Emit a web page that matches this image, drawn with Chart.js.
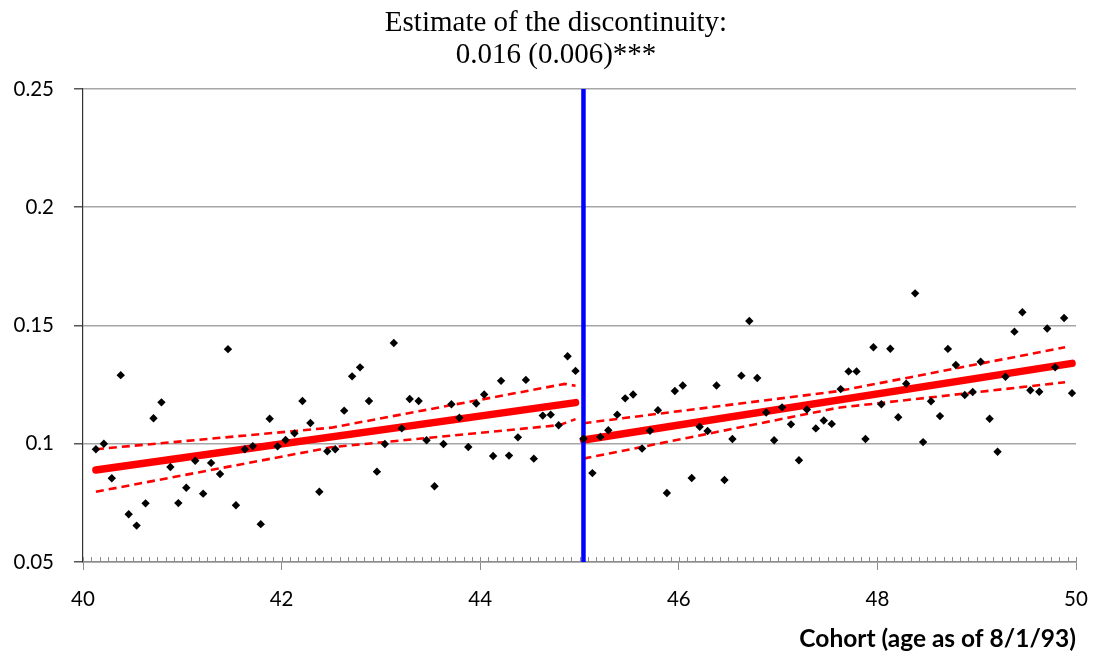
<!DOCTYPE html>
<html>
<head>
<meta charset="utf-8">
<script src="https://cdn.jsdelivr.net/npm/chart.js@4"></script>
<style>
html, body { margin: 0; padding: 0; background: #fff; }
</style>
</head>
<body>
<canvas id="myChart" width="1094" height="656"></canvas>
<script>
// cohort (age as of 8/1/93), one point per month
const cohort = [
    40.13, 40.21, 40.29, 40.38, 40.46, 40.54, 40.63, 40.71, 40.79, 40.88, 40.96, 41.04,
    41.13, 41.21, 41.29, 41.38, 41.46, 41.54, 41.63, 41.71, 41.79, 41.88, 41.96, 42.04,
    42.13, 42.21, 42.29, 42.38, 42.46, 42.54, 42.63, 42.71, 42.79, 42.88, 42.96, 43.04,
    43.13, 43.21, 43.29, 43.38, 43.46, 43.54, 43.63, 43.71, 43.79, 43.88, 43.96, 44.04,
    44.13, 44.21, 44.29, 44.38, 44.46, 44.54, 44.63, 44.71, 44.79, 44.88, 44.96, 45.04,
    45.13, 45.21, 45.29, 45.38, 45.46, 45.54, 45.63, 45.71, 45.79, 45.88, 45.96, 46.04,
    46.13, 46.21, 46.29, 46.38, 46.46, 46.54, 46.63, 46.71, 46.79, 46.88, 46.96, 47.04,
    47.13, 47.21, 47.29, 47.38, 47.46, 47.54, 47.63, 47.71, 47.79, 47.88, 47.96, 48.04,
    48.13, 48.21, 48.29, 48.38, 48.46, 48.54, 48.63, 48.71, 48.79, 48.88, 48.96, 49.04,
    49.13, 49.21, 49.29, 49.38, 49.46, 49.54, 49.63, 49.71, 49.79, 49.88, 49.96
];

const share = [
    0.0977, 0.1000, 0.0854, 0.1290, 0.0702, 0.0654, 0.0748, 0.1108, 0.1175, 0.0902, 0.0749, 0.0814,
    0.0928, 0.0789, 0.0919, 0.0872, 0.1400, 0.0740, 0.0977, 0.0990, 0.0660, 0.1106, 0.0989, 0.1016,
    0.1044, 0.1181, 0.1088, 0.0797, 0.0968, 0.0977, 0.1140, 0.1285, 0.1323, 0.1181, 0.0882, 0.0999,
    0.1426, 0.1065, 0.1189, 0.1181, 0.1015, 0.0820, 0.0999, 0.1167, 0.1110, 0.0986, 0.1170, 0.1208,
    0.0948, 0.1266, 0.0950, 0.1027, 0.1270, 0.0937, 0.1119, 0.1123, 0.1078, 0.1370, 0.1308, 0.1021,
    0.0876, 0.1029, 0.1057, 0.1123, 0.1192, 0.1208, 0.0980, 0.1055, 0.1142, 0.0792, 0.1223, 0.1246,
    0.0855, 0.1072, 0.1054, 0.1246, 0.0847, 0.1020, 0.1288, 0.1519, 0.1278, 0.1132, 0.1015, 0.1154,
    0.1082, 0.0930, 0.1145, 0.1065, 0.1098, 0.1084, 0.1231, 0.1306, 0.1306, 0.1020, 0.1408, 0.1167,
    0.1402, 0.1112, 0.1254, 0.1636, 0.1007, 0.1180, 0.1117, 0.1401, 0.1333, 0.1206, 0.1219, 0.1347,
    0.1106, 0.0966, 0.1283, 0.1474, 0.1556, 0.1226, 0.1220, 0.1487, 0.1323, 0.1532, 0.1214
];

// fitted lines on each side of the cutoff
const cutoff = 45.04;
const leftFitX = [40.13, 44.96];
const leftFitY = [0.0889, 0.1174];
const rightFitX = [45.04, 49.96];
const rightFitY = [0.1016, 0.1340];

// confidence bands (dashed)
const leftUpperX = [40.13, 42.5, 44.85, 44.96];
const leftUpperY = [0.0977, 0.1068, 0.1253, 0.1245];
const leftLowerX = [40.13, 42.5, 44.8, 44.96];
const leftLowerY = [0.0797, 0.0985, 0.1079, 0.1104];
const rightUpperX = [45.04, 47.6, 49.89];
const rightUpperY = [0.1087, 0.1222, 0.1408];
const rightLowerX = [45.04, 47.6, 49.89];
const rightLowerY = [0.0937, 0.1152, 0.1260];

const yTicks = [0.05, 0.1, 0.15, 0.2, 0.25];
const xTicks = [40, 42, 44, 46, 48, 50];

const titleLines = ['Estimate of the discontinuity:', '0.016 (0.006)***'];
const xTitle = 'Cohort (age as of 8/1/93)';

function pts(xs, ys) {
    return xs.map((x, i) => ({ x: x, y: ys[i] }));
}

function lineSet(xs, ys, width, dash, order) {
    return {
        data: pts(xs, ys),
        showLine: true,
        borderColor: '#ff0000',
        borderWidth: width,
        borderDash: dash,
        borderCapStyle: dash.length ? 'butt' : 'round',
        pointRadius: 0,
        order: order
    };
}

// monthly minor ticks on the x axis + the chart texts
const extras = {
    id: 'extras',
    afterDraw(chart) {
        const ctx = chart.ctx;
        const xs = chart.scales.x;
        const area = chart.chartArea;
        ctx.save();
        ctx.strokeStyle = '#8c8c8c';
        ctx.lineWidth = 1;
        for (let i = 0; i <= 120; i++) {
            const px = Math.round(xs.getPixelForValue(xs.min + i / 12)) + 0.5;
            ctx.beginPath();
            ctx.moveTo(px, area.bottom);
            ctx.lineTo(px, area.bottom - 5);
            ctx.stroke();
        }

        ctx.fillStyle = '#000';
        ctx.textAlign = 'center';
        ctx.textBaseline = 'alphabetic';
        ctx.font = '29px "Liberation Serif"';
        ctx.fillText(titleLines[0], 556, 31);
        ctx.fillText(titleLines[1], 556, 63);

        ctx.textAlign = 'right';
        ctx.font = 'bold 24.5px Lato';
        ctx.fillText(xTitle, area.right, 647);
        ctx.restore();
    }
};

const config = {
    type: 'scatter',
    data: {
        datasets: [
            {
                data: pts(cohort, share),
                pointStyle: 'rectRot',
                pointRadius: 4.2,
                backgroundColor: '#000',
                borderWidth: 0,
                order: 0
            },
            {
                data: [{ x: cutoff, y: yTicks[0] }, { x: cutoff, y: yTicks[yTicks.length - 1] }],
                showLine: true,
                borderColor: '#0000ff',
                borderWidth: 4.5,
                pointRadius: 0,
                order: 1
            },
            lineSet(leftFitX, leftFitY, 7.5, [], 2),
            lineSet(rightFitX, rightFitY, 7.5, [], 2),
            lineSet(leftUpperX, leftUpperY, 2.6, [8, 5], 3),
            lineSet(leftLowerX, leftLowerY, 2.6, [8, 5], 3),
            lineSet(rightUpperX, rightUpperY, 2.6, [8, 5], 3),
            lineSet(rightLowerX, rightLowerY, 2.6, [8, 5], 3)
        ]
    },
    options: {
        responsive: false,
        animation: false,
        layout: { padding: { left: 0, right: 18, top: 89, bottom: 0 } },
        plugins: {
            legend: { display: false },
            tooltip: { enabled: false },
            title: { display: false }
        },
        scales: {
            x: {
                type: 'linear',
                min: xTicks[0],
                max: xTicks[xTicks.length - 1],
                afterFit(scale) {
                    scale.height = 94;
                    scale.paddingLeft = 0;
                    scale.paddingRight = 0;
                },
                afterBuildTicks(scale) { scale.ticks = xTicks.map(v => ({ value: v })); },
                ticks: {
                    color: '#000',
                    font: { family: 'Lato', size: 20.5 },
                    padding: 17,
                    maxRotation: 0
                },
                grid: {
                    drawOnChartArea: false,
                    color: '#8c8c8c',
                    tickLength: 8
                },
                border: { color: '#8c8c8c', width: 1.5 }
            },
            y: {
                min: yTicks[0],
                max: yTicks[yTicks.length - 1],
                afterFit(scale) {
                    scale.width = 83;
                    scale.paddingTop = 0;
                    scale.paddingBottom = 0;
                },
                afterBuildTicks(scale) { scale.ticks = yTicks.map(v => ({ value: v })); },
                ticks: {
                    color: '#000',
                    font: { family: 'Lato', size: 20.5 },
                    padding: 20,
                    callback: v => String(+v.toFixed(2))
                },
                grid: {
                    color: '#a6a6a6',
                    lineWidth: 1.5,
                    tickColor: '#555',
                    tickLength: 9
                },
                border: { color: '#333', width: 1.2 }
            }
        }
    },
    plugins: [extras]
};

const myChart = new Chart(document.getElementById('myChart'), config);
</script>
</body>
</html>
